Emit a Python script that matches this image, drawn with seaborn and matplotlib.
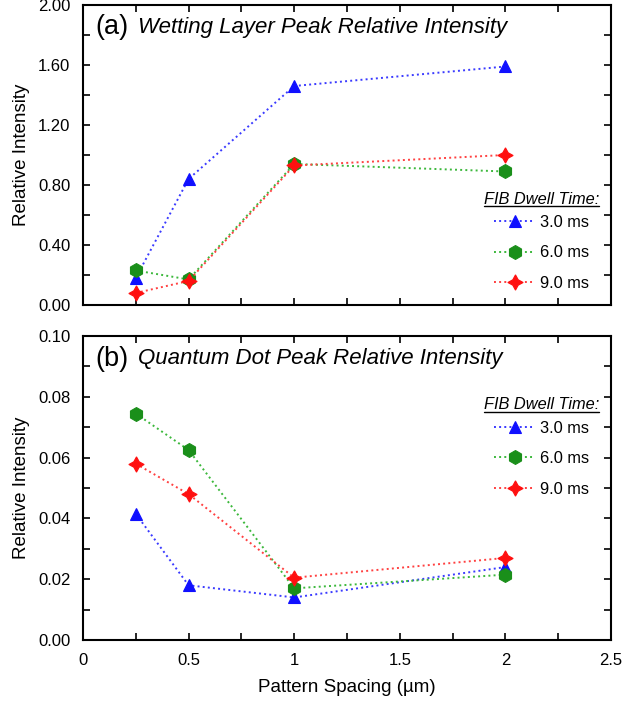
import matplotlib
matplotlib.use("Agg")
import matplotlib.pyplot as plt
from matplotlib.ticker import MultipleLocator, FormatStrFormatter, FuncFormatter
from matplotlib.lines import Line2D
import seaborn as sns

# Data
spacing = [0.25, 0.5, 1.0, 2.0]
dwell_labels = ["3.0 ms", "6.0 ms", "9.0 ms"]

wl_3ms = [0.18, 0.84, 1.46, 1.59]
wl_6ms = [0.23, 0.17, 0.94, 0.89]
wl_9ms = [0.08, 0.16, 0.93, 1.00]

qd_3ms = [0.0415, 0.018, 0.014, 0.024]
qd_6ms = [0.0745, 0.0625, 0.017, 0.0215]
qd_9ms = [0.058, 0.048, 0.0205, 0.027]

sns.set_style("ticks")
plt.rcParams['font.family'] = ['Liberation Sans', 'DejaVu Sans']
plt.rcParams['text.color'] = 'black'
plt.rcParams['axes.labelcolor'] = 'black'
plt.rcParams['xtick.color'] = 'black'
plt.rcParams['ytick.color'] = 'black'

line_colors = ["#3a3aff", "#3cb83c", "#ff4040"]
marker_colors = ["#1010ff", "#1a8f1a", "#ff1010"]
markers = ["^", "h", (4, 1, 0)]
msizes = [9, 10, 11]

fig = plt.figure(figsize=(6.22, 7.04), dpi=100)
ax1 = fig.add_axes([0.1334, 0.5668, 0.849, 0.4261])
ax2 = fig.add_axes([0.1334, 0.0909, 0.849, 0.4318])


def draw_panel(ax, series, ymax, ymaj, ymin, letter, title, leg_top):
    for vals, lab, lc, mc, mk, ms in zip(series, dwell_labels, line_colors,
                                         marker_colors, markers, msizes):
        sns.lineplot(x=spacing, y=vals, ax=ax, label=lab, color=lc,
                     linestyle=":", linewidth=1.4, marker=mk, markersize=ms,
                     markerfacecolor=mc, markeredgecolor=mc, markeredgewidth=0.8)
    ax.set_xlim(0, 2.5)
    ax.set_ylim(0, ymax)
    ax.xaxis.set_major_locator(MultipleLocator(0.5))
    ax.xaxis.set_minor_locator(MultipleLocator(0.25))
    ax.yaxis.set_major_locator(MultipleLocator(ymaj))
    ax.yaxis.set_minor_locator(MultipleLocator(ymin))
    ax.yaxis.set_major_formatter(FormatStrFormatter("%.2f"))
    ax.xaxis.set_major_formatter(FuncFormatter(lambda v, p: "%g" % v))
    ax.tick_params(which="both", direction="in", right=True, top=True,
                   width=1.2, length=5, labelsize=12, pad=9)
    for s in ax.spines.values():
        s.set_linewidth(1.5)
        s.set_color("black")
    ax.set_ylabel("Relative Intensity", fontsize=13.5, labelpad=6)
    ax.text(0.024, 0.925, letter, transform=ax.transAxes, fontsize=19.5,
            va="center", ha="left")
    ax.text(0.104, 0.925, title, transform=ax.transAxes, fontsize=16,
            style="italic", va="center", ha="left")
    leg = ax.legend(title="FIB Dwell Time:", loc="upper right",
                    bbox_to_anchor=(0.99, leg_top), frameon=False,
                    fontsize=11.8, title_fontsize=11.8, handlelength=2.5,
                    labelspacing=0.95, handletextpad=0.3, borderaxespad=0)
    leg.get_title().set_style("italic")
    leg._legend_box.sep = 6
    return leg


leg1 = draw_panel(ax1, [wl_3ms, wl_6ms, wl_9ms], 2.0, 0.4, 0.2, "(a)",
                  "Wetting Layer Peak Relative Intensity", 0.40)
leg2 = draw_panel(ax2, [qd_3ms, qd_6ms, qd_9ms], 0.10, 0.02, 0.01, "(b)",
                  "Quantum Dot Peak Relative Intensity", 0.82)
ax1.set_xticklabels([])
ax1.set_xlabel("")
ax2.set_xlabel("Pattern Spacing (\u00b5m)", fontsize=13.5, labelpad=8)

# underline the legend titles
fig.canvas.draw()
inv = fig.transFigure.inverted()
for leg in (leg1, leg2):
    bb = leg.get_title().get_window_extent()
    (x0, y0), (x1, y1) = inv.transform([[bb.x0, bb.y0], [bb.x1, bb.y1]])
    fig.add_artist(Line2D([x0, x1], [y0 + 0.001, y0 + 0.001],
                          transform=fig.transFigure, color="black", lw=1.0))

fig.savefig("out.png", dpi=100)
